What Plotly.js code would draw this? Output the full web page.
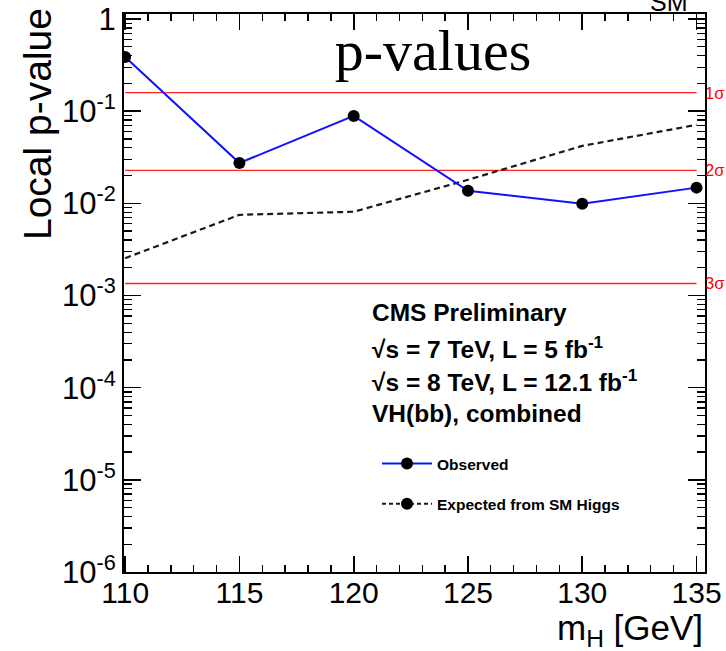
<!DOCTYPE html>
<html>
<head>
<meta charset="utf-8">
<script src="https://cdn.plot.ly/plotly-3.0.1.min.js"></script>
<style>html,body{margin:0;padding:0;background:#fff;}#chart{width:726px;height:651px;}</style>
</head>
<body>
<div id="chart"></div>
<script>
// Data
const massPoints = [110, 115, 120, 125, 130, 135];
const observedP = [0.387, 0.0274, 0.0887, 0.0137, 0.0099, 0.0148];
const expectedP = [0.00254, 0.0075, 0.0081, 0.0180, 0.042, 0.071];
const sigmaLevels = [0.1587, 0.02275, 0.00135];
const sigmaLabels = ['1σ', '2σ', '3σ'];
const sigmaX = [110, 135];
const yTickVals = [1e-6, 1e-5, 1e-4, 1e-3, 1e-2, 1e-1, 1];
const yTickText = ['10<sup>-6</sup>', '10<sup>-5</sup>', '10<sup>-4</sup>', '10<sup>-3</sup>', '10<sup>-2</sup>', '10<sup>-1</sup>', '1'];
const infoLines = ['CMS Preliminary', '√s = 7 TeV, L = 5 fb<sup>-1</sup>', '√s = 8 TeV, L = 12.1 fb<sup>-1</sup>', 'VH(bb), combined'];

const yMinor = [];
for (let d = -6; d < 0; d++) for (let k = 2; k <= 9; k++) yMinor.push(k * Math.pow(10, d));

const traces = [];
sigmaLevels.forEach((v) => {
  traces.push({x: sigmaX, y: [v, v], mode: 'lines', line: {color: '#ff2020', width: 1.3}, showlegend: false, hoverinfo: 'skip'});
});
traces.push({x: massPoints, y: expectedP, mode: 'lines', line: {color: '#1a1a1a', width: 2.2, dash: '6px,4px'}, showlegend: false});
traces.push({x: massPoints, y: observedP, mode: 'lines+markers', name: 'Observed', legendgroup: 'a',
  line: {color: '#1010ff', width: 2}, marker: {color: '#000', size: 12}});
traces.push({x: [null], y: [null], mode: 'lines+markers', name: 'Expected from SM Higgs', legendgroup: 'b',
  line: {color: '#1a1a1a', width: 2, dash: '4px,3px'}, marker: {color: '#000', size: 12}});

const font = 'Liberation Sans, Arial, sans-serif';
const annotations = [];
const lineY = [312, 347, 380, 413];
infoLines.forEach((t, i) => {
  annotations.push({xref: 'paper', yref: 'paper', x: (370 - 124) / 581, y: (572 - lineY[i]) / 558, xanchor: 'left', yanchor: 'middle',
    text: t, showarrow: false, font: {family: font, size: 24.5, color: '#000', weight: 'bold'}});
});
sigmaLevels.forEach((v, i) => {
  annotations.push({xref: 'paper', yref: 'y', x: 1, y: Math.log10(v), xanchor: 'left', yanchor: 'middle', xshift: -2,
    text: sigmaLabels[i], showarrow: false, font: {family: font, size: 16.5, color: '#ff0000'}});
});
annotations.push({xref: 'paper', yref: 'paper', x: -0.148, y: (572 - 124) / 558, xanchor: 'center', yanchor: 'middle', textangle: -90,
  text: 'Local p-value', showarrow: false, font: {family: font, size: 39, color: '#000'}});
annotations.push({xref: 'paper', yref: 'paper', x: 1, y: (572 - 630) / 558, xanchor: 'right', yanchor: 'middle',
  text: 'm<sub>H</sub> [GeV]', showarrow: false, font: {family: font, size: 35, color: '#000'}});
annotations.push({xref: 'paper', yref: 'paper', x: (690 - 124) / 581, y: 1, xanchor: 'right', yanchor: 'bottom', yshift: -4,
  text: 'SM', showarrow: false, font: {family: font, size: 25, color: '#000'}});

const layout = {
  width: 726, height: 651,
  margin: {l: 124, r: 21, t: 14, b: 79},
  paper_bgcolor: '#fff', plot_bgcolor: '#fff',
  title: {text: 'p-values', font: {family: 'Liberation Serif, serif', size: 58, color: '#000'}, x: 433 / 726, xanchor: 'center', y: 1 - 50 / 651, yanchor: 'middle', yref: 'container'},
  xaxis: {range: [109.95, 135.37], showline: true, linewidth: 2, linecolor: '#000', mirror: 'ticks', showgrid: false, zeroline: false,
    tickmode: 'linear', tick0: 110, dtick: 5, ticks: 'inside', ticklen: 16, tickwidth: 1.6, tickcolor: '#000',
    ticklabelstandoff: -7,
    tickfont: {family: font, size: 30, color: '#000'},
    minor: {dtick: 1, tick0: 110, ticks: 'inside', ticklen: 7, tickwidth: 1.3, tickcolor: '#000', showgrid: false}},
  yaxis: {type: 'log', range: [-6, 0.054], showline: true, linewidth: 2, linecolor: '#000', mirror: 'ticks', showgrid: false, zeroline: false,
    tickmode: 'array', tickvals: yTickVals, ticktext: yTickText, ticks: 'inside', ticklen: 17, tickwidth: 1.6, tickcolor: '#000',
    tickfont: {family: font, size: 31, color: '#000'},
    minor: {tickmode: 'array', tickvals: yMinor, ticks: 'inside', ticklen: 8, tickwidth: 1.3, tickcolor: '#000', showgrid: false}},
  legend: {x: (377 - 124) / 581, y: (572 - 447) / 558, xanchor: 'left', yanchor: 'top', bgcolor: 'rgba(0,0,0,0)',
    font: {family: font, size: 15.5, color: '#000', weight: 'bold'}, traceorder: 'grouped', tracegroupgap: 17, itemwidth: 50},
  annotations: annotations,
  showlegend: true
};

Plotly.newPlot('chart', traces, layout, {staticPlot: true, displayModeBar: false});
</script>
</body>
</html>
